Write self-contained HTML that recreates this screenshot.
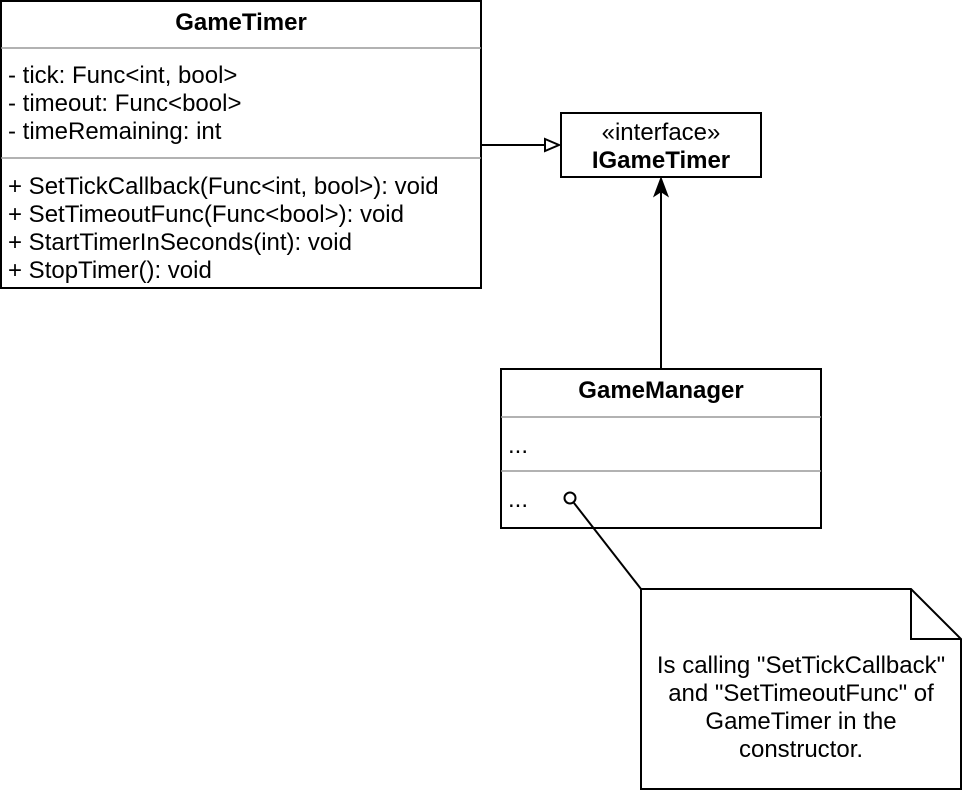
<!DOCTYPE html>
<html><head><style>body{margin:0;background:#fff}svg{display:block}</style></head><body>
<svg width="962" height="790" xmlns="http://www.w3.org/2000/svg" font-family="Liberation Sans, Arial, sans-serif" font-size="24" fill="#000">
<rect x="1" y="1" width="480" height="287" fill="#fff" stroke="#000" stroke-width="2"/>
<line x1="1" y1="48" x2="481" y2="48" stroke="#999" stroke-width="1.5"/>
<line x1="1" y1="158" x2="481" y2="158" stroke="#999" stroke-width="1.5"/>
<text x="241" y="30" text-anchor="middle" font-weight="bold">GameTimer</text>
<text x="8" y="83">- tick: Func&lt;int, bool&gt;</text>
<text x="8" y="111">- timeout: Func&lt;bool&gt;</text>
<text x="8" y="139">- timeRemaining: int</text>
<text x="8" y="194">+ SetTickCallback(Func&lt;int, bool&gt;): void</text>
<text x="8" y="222">+ SetTimeoutFunc(Func&lt;bool&gt;): void</text>
<text x="8" y="250">+ StartTimerInSeconds(int): void</text>
<text x="8" y="278">+ StopTimer(): void</text>

<rect x="561" y="113" width="200" height="64" fill="#fff" stroke="#000" stroke-width="2"/>
<text x="661" y="140" text-anchor="middle">«interface»</text>
<text x="661" y="168" text-anchor="middle" font-weight="bold">IGameTimer</text>

<line x1="481" y1="145" x2="545" y2="145" stroke="#000" stroke-width="2"/>
<polygon points="545,139 559,145 545,151" fill="#fff" stroke="#000" stroke-width="2"/>

<line x1="661" y1="369" x2="661" y2="192" stroke="#000" stroke-width="2"/>
<polygon points="661,179 667,195 661,191 655,195" fill="#000" stroke="#000" stroke-width="2"/>

<rect x="501" y="369" width="320" height="159" fill="#fff" stroke="#000" stroke-width="2"/>
<line x1="501" y1="417" x2="821" y2="417" stroke="#999" stroke-width="1.5"/>
<line x1="501" y1="471" x2="821" y2="471" stroke="#999" stroke-width="1.5"/>
<text x="661" y="398" text-anchor="middle" font-weight="bold">GameManager</text>
<text x="508" y="453">...</text>
<text x="508" y="507">...</text>

<line x1="574" y1="503" x2="641" y2="589" stroke="#000" stroke-width="2"/>
<circle cx="570" cy="498" r="5.5" fill="#fff" stroke="#000" stroke-width="2"/>

<path d="M641,589 L911,589 L961,639 L961,789 L641,789 Z" fill="#fff" stroke="#000" stroke-width="2"/>
<path d="M911,589 L911,639 L961,639" fill="none" stroke="#000" stroke-width="2"/>
<text x="801" y="673" text-anchor="middle">Is calling "SetTickCallback"</text>
<text x="801" y="701" text-anchor="middle">and "SetTimeoutFunc" of</text>
<text x="801" y="729" text-anchor="middle">GameTimer in the</text>
<text x="801" y="757" text-anchor="middle">constructor.</text>
</svg>
</body></html>
